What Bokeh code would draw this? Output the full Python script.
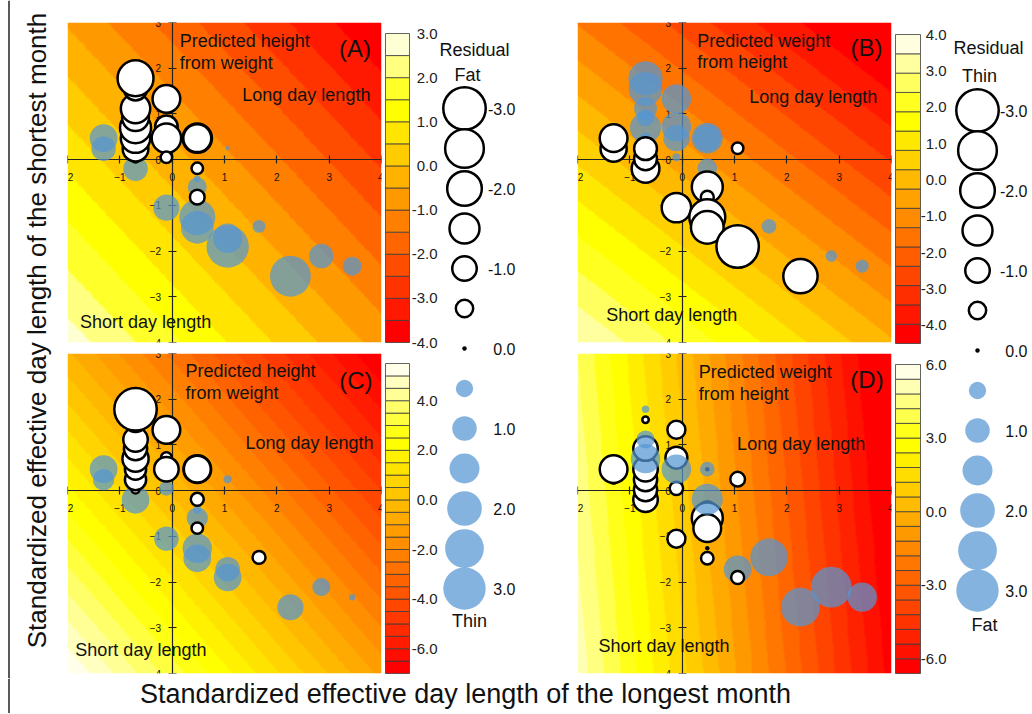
import math
import colorsys
import numpy as np
from bokeh.plotting import figure
from bokeh.layouts import row, column
from bokeh.models import Range1d, LinearColorMapper, Label, FixedTicker, ColumnDataSource
from bokeh.embed import file_html
from bokeh.resources import INLINE
from bokeh.core.properties import value

FONT = "Liberation Sans"
BLUE = "#5596D2"
SIZE_K = 24.5          # bubble diameter (px) = SIZE_K * sqrt(|residual|)
ZERO_DOT = 4.5         # a residual of exactly 0 is shown as a small black dot

# ---------------- data ----------------
# standardized effective day length of longest month (x) / shortest month (y)
pop_x = [-1.31, -1.31,
         -0.70, -0.70, -0.70, -0.70, -0.70, -0.70, -0.70, -0.70, -0.70,
         -0.11, -0.11, -0.11, -0.11, -0.11,
         0.48, 0.48, 0.48, 0.48, 0.48, 0.48, 0.48, 0.48,
         1.06, 1.06, 1.06, 1.66, 2.26, 2.85, 3.44]
pop_y = [0.24, 0.47,
         -0.20, 0.02, 0.24, 0.47, 0.70, 0.92, 1.12, 1.55, 1.78,
         1.33, 0.72, 0.47, 0.05, -1.05,
         0.47, 0.47, -0.19, -0.42, -0.60, -0.82, -1.26, -1.48,
         0.25, -1.72, -1.90, -1.46, -2.55, -2.11, -2.33]

resid_A = [1.0, 1.28,
           1.0, -0.1, -1.1, -1.44, -1.6, -1.2, -1.44, -0.9, -2.15,
           -1.28, -0.85, -1.44, -0.22, 1.14,
           -1.44, -1.3, -0.22, 0.07, 0.6, -0.36, 2.15, 1.78,
           0.03, 1.44, 3.0, 0.28, 2.78, 1.0, 0.6]
resid_B = [-1.14, -1.28,
           -1.28, -0.87, -0.87, 0.22, 1.6, 0.5, 0.87, 1.9, 1.96,
           1.44, 1.44, 1.14, 0.11, -1.44,
           1.6, 1.2, 0.64, -0.3, -1.6, -0.28, -2.15, -1.78,
           -0.22, -1.0, -3.0, 0.36, -1.96, 0.22, 0.28]
resid_C = [0.75, 1.28,
           1.28, -0.1, -0.75, -0.75, -1.14, -0.9, -1.0, -1.0, -3.0,
           -1.28, -0.2, -1.0, 0.36, 1.0,
           -1.28, -1.2, -0.28, 0.11, 0.75, -0.22, 1.44, 1.28,
           0.11, 1.0, 1.28, -0.28, 1.14, 0.54, 0.07]
resid_D = [-0.1, -1.28,
           -1.0, -0.9, -0.9, -1.0, 1.44, -1.0, 0.54, -0.07, 0.09,
           -0.54, -0.8, 1.44, -0.3, -0.54,
           0.36, 0.0, 1.6, -0.5, -1.6, -1.28, 0.0, -0.26,
           -0.36, 1.28, -0.28, 2.35, 2.5, 2.78, 1.44]

x_ticks = [-2, -1, 0, 1, 2, 3, 4]
y_ticks = [-4, -3, -2, -1, 0, 1, 2, 3]

# colour keys: lowest level, highest level, number of bands, labelled values
key_A = dict(low=-4.0, high=3.0, n=14, ticks=[3, 2, 1, 0, -1, -2, -3, -4])
key_B = dict(low=-4.5, high=4.0, n=16, ticks=[4, 3, 2, 1, 0, -1, -2, -3, -4])
key_C = dict(low=-7.0, high=5.5, n=25, ticks=[4, 2, 0, -2, -4, -6])
key_D = dict(low=-6.6, high=6.0, n=21, ticks=[6, 3, 0, -3, -6])

# predicted surface of each panel: value at origin, slope along x, slope along y
surf_A = [-0.29, -0.575, -0.472]
surf_B = [-0.50, -0.61, -0.69]
surf_C = [-0.10, -1.10, -0.84]
surf_D = [0.80, -1.90, -0.14]

legend_vals = [-3.0, -2.5, -2.0, -1.5, -1.0, -0.5, 0.0, 0.5, 1.0, 1.5, 2.0, 2.5, 3.0]
legend_label_vals = [-3.0, -2.0, -1.0, 0.0, 1.0, 2.0, 3.0]

notes_A = [("Predicted height", 0.145, 2.59, "left", "18px"),
           ("from weight", 0.145, 2.11, "left", "18px"),
           ("Long day length", 1.34, 1.41, "left", "18px"),
           ("Short day length", -1.76, -3.55, "left", "18px"),
           ("(A)", 3.80, 2.43, "right", "24px")]
notes_B = [("Predicted weight", 0.287, 2.59, "left", "18px"),
           ("from height", 0.287, 2.13, "left", "18px"),
           ("Long day length", 1.28, 1.36, "left", "18px"),
           ("Short day length", -1.45, -3.40, "left", "18px"),
           ("(B)", 3.83, 2.46, "right", "24px")]
notes_C = [("Predicted height", 0.255, 2.62, "left", "18px"),
           ("from weight", 0.255, 2.14, "left", "18px"),
           ("Long day length", 1.40, 1.04, "left", "18px"),
           ("Short day length", -1.85, -3.49, "left", "18px"),
           ("(C)", 3.83, 2.42, "right", "24px")]
notes_D = [("Predicted weight", 0.317, 2.59, "left", "18px"),
           ("from height", 0.317, 2.12, "left", "18px"),
           ("Long day length", 1.05, 1.03, "left", "18px"),
           ("Short day length", -1.60, -3.40, "left", "18px"),
           ("(D)", 3.85, 2.43, "right", "24px")]


# ---------------- helpers ----------------
def hexcol(r, g, b):
    return "#%02X%02X%02X" % (round(r * 255), round(g * 255), round(b * 255))


def heat_colors(n):
    j = n // 4
    i = n - j
    cols = []
    for k in range(i):
        h = (1.0 / 6.0) * k / (i - 1)
        cols.append(hexcol(*colorsys.hsv_to_rgb(h, 1.0, 1.0)))
    if j > 0:
        s_hi, s_lo = 1 - 1 / (2 * j), 1 / (2 * j)
        for k in range(j):
            s = s_hi + (s_lo - s_hi) * (k / (j - 1) if j > 1 else 0)
            cols.append(hexcol(*colorsys.hsv_to_rgb(1.0 / 6.0, s, 1.0)))
    return cols


def bubble_size(v):
    return SIZE_K * math.sqrt(abs(v))


def draw_bubbles(p, xs, ys, vals, blue_on_top, front=()):
    """white = negative, blue = positive, black dot = zero; 'front' drawn last"""
    def src(idx):
        return ColumnDataSource(dict(x=[xs[k] for k in idx], y=[ys[k] for k in idx],
                                     size=[bubble_size(vals[k]) for k in idx]))

    def draw_blue(idx):
        if idx:
            p.scatter("x", "y", size="size", source=src(idx), marker="circle",
                      fill_color=BLUE, fill_alpha=0.72, line_color=None)

    def draw_white(idx):
        neg = [k for k in idx if vals[k] < 0]
        zer = [k for k in idx if vals[k] == 0]
        if neg:
            p.scatter("x", "y", size="size", source=src(neg), marker="circle",
                      fill_color="white", line_color="black", line_width=2.5)
        if zer:
            p.scatter(x=[xs[k] for k in zer], y=[ys[k] for k in zer], size=ZERO_DOT,
                      marker="circle", fill_color="black", line_color=None)

    body = [k for k in range(len(vals)) if k not in front]
    pos = [k for k in body if vals[k] > 0]
    nonpos = [k for k in body if vals[k] <= 0]
    if blue_on_top:
        draw_white(nonpos); draw_blue(pos)
    else:
        draw_blue(pos); draw_white(nonpos)
    draw_blue([k for k in front if vals[k] > 0])
    draw_white([k for k in front if vals[k] <= 0])


def base_fig(W, H, **kw):
    return figure(width=W, height=H, toolbar_location=None, output_backend="svg",
                  outline_line_color=None, background_fill_color="white",
                  border_fill_color="white", **kw)


def panel(resid, surf, key, notes, blue_on_top, H, top_b, bottom_b, front=()):
    p = base_fig(324, H, x_range=Range1d(-2, 4), y_range=Range1d(-4, 3),
                 min_border_left=8, min_border_right=2,
                 min_border_top=top_b, min_border_bottom=bottom_b)
    xs = np.linspace(-2, 4, 360)
    ys = np.linspace(-4, 3, 360)
    X, Y = np.meshgrid(xs, ys)
    Z = surf[0] + surf[1] * X + surf[2] * Y
    pal = heat_colors(key["n"])
    mapper = LinearColorMapper(palette=pal, low=key["low"], high=key["high"],
                               low_color=pal[0], high_color=pal[-1])
    img = p.image(image=[Z], x=-2, y=-4, dw=6, dh=7, color_mapper=mapper)
    img.level = "image"

    draw_bubbles(p, pop_x, pop_y, resid, blue_on_top, front)

    p.xgrid.visible = False
    p.ygrid.visible = False
    p.xaxis.fixed_location = 0
    p.yaxis.fixed_location = 0
    p.xaxis.ticker = FixedTicker(ticks=x_ticks)
    p.yaxis.ticker = FixedTicker(ticks=y_ticks)
    p.xaxis.major_label_standoff = 9
    p.yaxis.major_label_standoff = 7
    for ax in (p.xaxis[0], p.yaxis[0]):
        ax.major_label_text_font = FONT
        ax.major_label_text_font_size = "10px"
        ax.major_label_text_color = "#111111"
        ax.major_tick_in = 4
        ax.major_tick_out = 4
        ax.minor_tick_line_color = None
        ax.axis_line_color = "#222222"
        ax.axis_line_width = 1.2
        ax.major_tick_line_color = "#222222"
        ax.major_tick_line_width = 1.2
        ax.level = "underlay"

    for txt, x, y, align, fs in notes:
        p.add_layout(Label(x=x, y=y, text=txt, text_align=align, text_baseline="middle",
                           text_font=FONT, text_font_size=fs, text_color="#111111"))
    return p


def key_figure(key, W, H, bar, label_right):
    l, r, t, b = bar
    lo, hi, n = key["low"], key["high"], key["n"]
    upy = (hi - lo) / (b - t)
    upx = 1.0 / (r - l)
    p = base_fig(W, H, x_range=Range1d(-l * upx, 1 + (W - r) * upx),
                 y_range=Range1d(lo - (H - b) * upy, hi + t * upy),
                 x_axis_type=None, y_axis_type=None, min_border=0)
    edges = np.linspace(lo, hi, n + 1)
    p.quad(left=0, right=1, bottom=edges[:-1], top=edges[1:], fill_color=heat_colors(n),
           line_color="#3c3c3c", line_width=0.8)
    ticks = key["ticks"]
    lx = (label_right - l) * upx
    p.text(x=[lx] * len(ticks), y=ticks, text=["%.1f" % t for t in ticks],
           text_align="right", text_baseline="middle", text_font=value(FONT),
           text_font_size="15px", text_color="#222222")
    return p


def legend_figure(W, H, cx, y0, step, label_right, texts):
    p = base_fig(W, H, x_range=Range1d(0, W), y_range=Range1d(H, 0),
                 x_axis_type=None, y_axis_type=None, min_border=0)
    ys = [y0 + step * k for k in range(len(legend_vals))]
    draw_bubbles(p, [cx] * len(legend_vals), ys, legend_vals, False)
    lab = [k for k, v in enumerate(legend_vals) if v in legend_label_vals]
    p.text(x=[label_right] * len(lab), y=[ys[k] for k in lab],
           text=["%.1f" % legend_vals[k] for k in lab], text_align="right",
           text_baseline="middle", text_font=value(FONT), text_font_size="16px",
           text_color="#111111")
    for txt, x, y in texts:
        p.add_layout(Label(x=x, y=y, text=txt, text_align="center", text_baseline="middle",
                           text_font=FONT, text_font_size="18px", text_color="#111111"))
    return p


# ---------------- build ----------------
H_TOP, H_BOT, H_X = 348, 330, 35
H_ALL = H_TOP + H_BOT

pA = panel(resid_A, surf_A, key_A, notes_A, False, H_TOP, 22, 6)
pC = panel(resid_C, surf_C, key_C, notes_C, False, H_BOT, 5, 5)
pB = panel(resid_B, surf_B, key_B, notes_B, False, H_TOP, 22, 6)
pD = panel(resid_D, surf_D, key_D, notes_D, True, H_BOT, 5, 5, front=(26,))

kA = key_figure(key_A, 56, 352, (2, 26, 33, 342), 54)
kC = key_figure(key_C, 56, H_ALL - 352, (2, 26, 11, 321), 54)
kB = key_figure(key_B, 54, 352, (2, 27, 34, 343), 53)
kD = key_figure(key_D, 54, H_ALL - 352, (2, 27, 12, 321), 53)

legAC = legend_figure(130, H_ALL, 25, 108, 40, 76,
                      [("Residual", 35, 49), ("Fat", 28, 74), ("Thin", 30, 620)])
legBD = legend_figure(84, H_ALL, 30, 110, 40, 80,
                      [("Residual", 41, 47.5), ("Thin", 32, 75), ("Fat", 37, 624)])

# y title strip (with the left frame line)
ytitle = base_fig(59, H_ALL, x_range=Range1d(0, 59), y_range=Range1d(H_ALL, 0),
                  x_axis_type=None, y_axis_type=None, min_border=0)
ytitle.segment(x0=[8.5], y0=[0], x1=[8.5], y1=[H_ALL], line_color="black", line_width=1.3)
ytitle.add_layout(Label(x=36, y=330, text="Standardized effective day length of the shortest month",
                        angle=math.pi / 2, text_align="center", text_baseline="middle",
                        text_font=FONT, text_font_size="26px", text_color="#111111"))

xtitle = base_fig(1031, H_X, x_range=Range1d(0, 1031), y_range=Range1d(H_X, 0),
                  x_axis_type=None, y_axis_type=None, min_border=0)
xtitle.segment(x0=[8.5], y0=[0], x1=[8.5], y1=[H_X], line_color="black", line_width=1.3)
xtitle.add_layout(Label(x=465, y=15, text="Standardized effective day length of the longest month",
                        text_align="center", text_baseline="middle",
                        text_font=FONT, text_font_size="27px", text_color="#111111"))

top = row(ytitle, column(pA, pC), column(kA, kC), legAC, column(pB, pD), column(kB, kD), legBD)
page = column(top, xtitle)

with open("out.html", "w") as f:
    f.write(file_html(page, INLINE, "Residuals vs day length"))
